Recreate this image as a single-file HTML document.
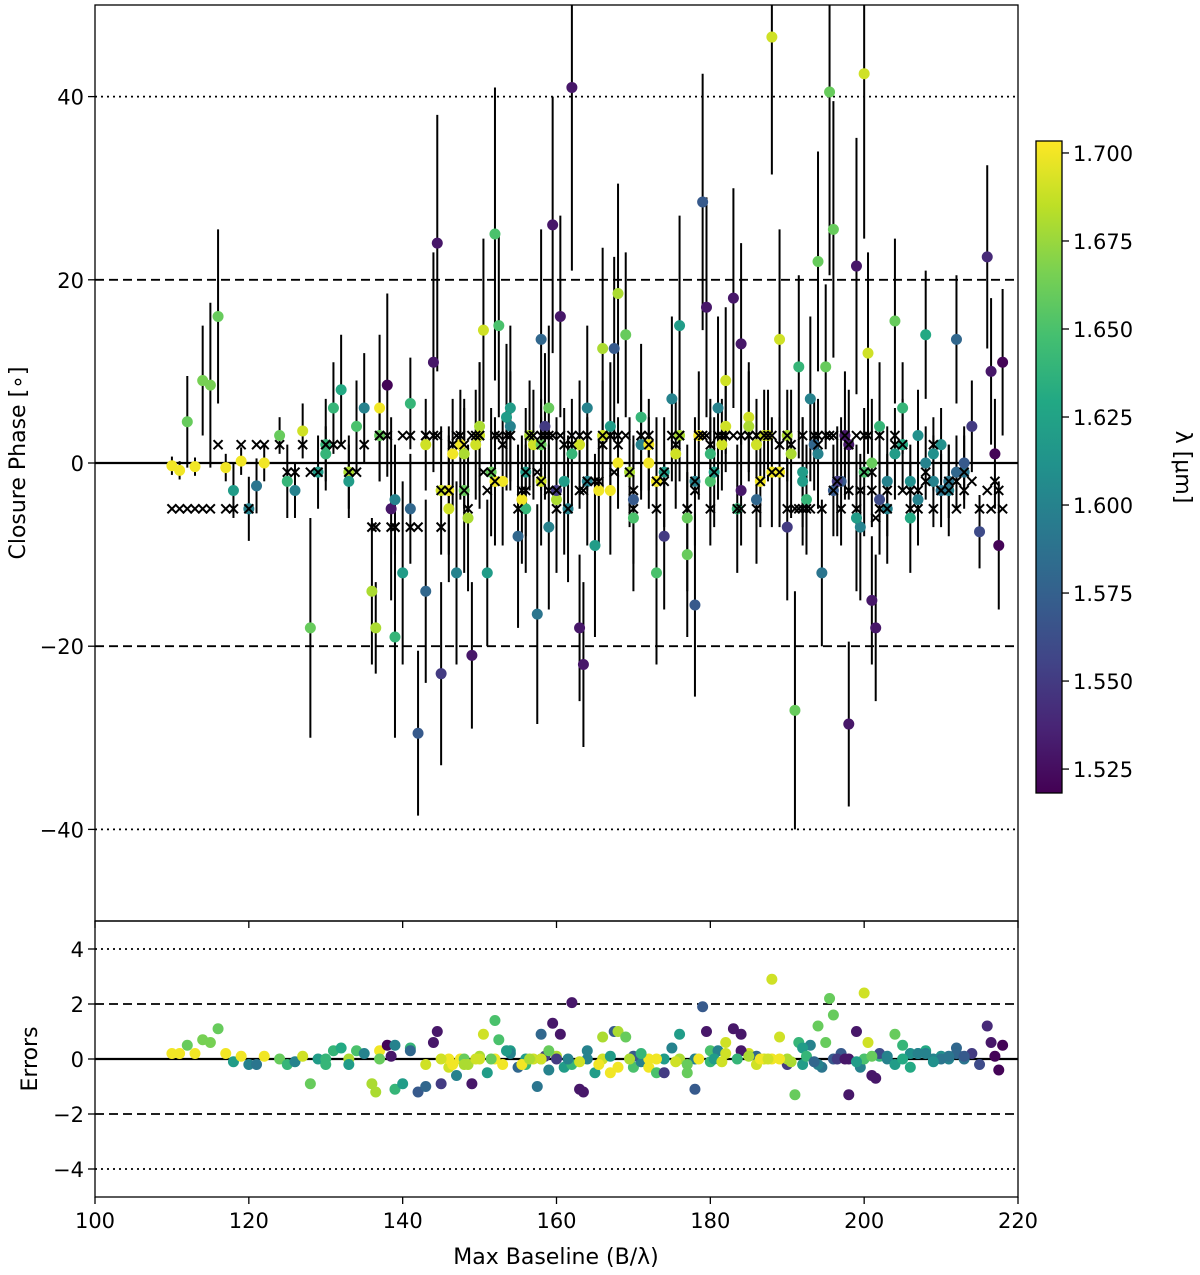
<!DOCTYPE html>
<html><head><meta charset="utf-8">
<style>
html,body{margin:0;padding:0;background:#fff;}
svg{display:block;font-family:"DejaVu Sans","Liberation Sans",sans-serif;}
</style></head>
<body>
<svg id="chart" width="1200" height="1275" viewBox="0 0 1200 1275" xmlns="http://www.w3.org/2000/svg">
<defs>
<clipPath id="clipTop"><rect x="95" y="5" width="923" height="916"/></clipPath>
<clipPath id="clipBot"><rect x="95" y="921" width="923" height="276"/></clipPath>
<linearGradient id="cbgrad" x1="0" y1="1" x2="0" y2="0">
<stop offset="0" stop-color="#440154"/><stop offset="0.1" stop-color="#482475"/><stop offset="0.2" stop-color="#414487"/><stop offset="0.3" stop-color="#355f8d"/><stop offset="0.4" stop-color="#2a788e"/><stop offset="0.5" stop-color="#21918c"/><stop offset="0.6" stop-color="#22a884"/><stop offset="0.7" stop-color="#44bf70"/><stop offset="0.8" stop-color="#7ad151"/><stop offset="0.9" stop-color="#bddf26"/><stop offset="1" stop-color="#fde725"/>
</linearGradient>
</defs>
<g id="top-layer"></g>
<g id="bot-layer"></g>
<g id="axes-layer"></g>
</svg>
<script>
const baseline = [110,111,112,113,114,115,116,117,118,119,120,121,122,
124,125,126,127,128,129,130,131,132,133,134,135,
136,136.5,137,138,138.5,139,140,141,142,143,144,144.5,145,
146,147,147.5,148,149,150,150.5,151,152,152.5,153,154,155,156,157,157.5,158,158.5,159,159.5,160,160.5,
161,162,163,163.5,164,165,166,167,167.5,168,169,170,171,172,173,174,175,
176,177,178,179,179.5,180,181,182,183,184,185,186,187,188,189,190,
191,191.5,192,193,194,194.5,195,195.5,196,197,198,199,199.5,200,200.5,201,201.5,202,203,204,205,
206,207,208,209,210,211,212,213,214,215,216,216.5,217,217.5,218,
130,133,137,139,141,143,146,148,150,152,154,156,158,160,162,164,166,168,170,172,174,176,178,180,182,184,186,188,190,192,194,196,198,200,202,204,206,208,210,212,
145,146.5,148.5,149.5,151.5,153.5,155.5,156.5,158,159,161.5,163,165.5,167,169.5,171,173,175.5,177,178.5,180.5,181.5,183.5,185,186.5,187.5,189,190.5,192.5,193.5,196.5,197.5,199,201,203,205,207,209,211,213];
const closurePhase = [-0.3,-0.8,4.5,-0.4,9,8.5,16,-0.5,-3,0.2,-5,-2.5,0,
3,-2,-3,3.5,-18,-1,2,6,8,-1,4,6,
-14,-18,6,8.5,-5,-19,-12,6.5,-29.5,-14,11,24,-23,
-5,-12,2,-3,-21,4,14.5,-12,25,15,-2,6,-8,-5,2,-16.5,13.5,4,-7,26,-4,16,
-2,41,-18,-22,6,-9,12.5,-3,12.5,18.5,14,-6,2,0,-12,-8,7,
15,-10,-15.5,28.5,17,-2,6,9,18,13,5,-4,3,46.5,13.5,-7,
-27,10.5,-1,7,22,-12,10.5,40.5,25.5,-2,-28.5,21.5,-7,42.5,12,-15,-18,4,-5,15.5,6,
-6,3,14,-2,2,-3,13.5,-1,4,-7.5,22.5,10,1,-9,11,
1,-2,3,-4,-5,2,-3,1,3,-2,4,-1,2,-3,1,-2,3,0,-4,2,-1,3,-2,1,4,-3,2,-1,3,-2,1,-3,2,-1,-4,1,-2,0,-3,-1,
-3,1,-6,2,-1,5,-4,3,-2,6,-5,2,-3,4,-1,5,-2,1,-6,3,-1,2,-5,4,-2,3,-1,1,-4,2,-2,3,-6,0,-2,2,-4,1,-2,0];
const errBar = [1,1,5,1,6,9,9.5,1.5,3,1.5,3.5,3,2,
2,4,3,3,12,4,5,5,6,4,5,6,
8,5,8,10,10,11,10,5,9,10,12,14,10,
8,10,6,9,8,7,10,8,16,10,7,9,10,7,6,12,12,8,9,14,8,11,
8,20,8,9,9,10,11,7,10,12,9,8,6,5,10,8,9,
12,9,10,14,12,7,10,8,12,11,6,7,5,15,12,8,
13,10,6,9,12,8,9,20,14,7,9,14,8,18,11,7,8,7,6,9,5,
6,5,7,5,4,5,7,4,5,4,10,8,6,7,8,
3,4,5,6,6,5,7,6,8,7,6,7,5,8,6,7,6,5,7,5,6,5,7,6,5,6,5,6,5,7,6,5,6,7,6,5,4,4,4,4,
7,6,8,6,7,8,7,6,7,9,8,7,6,7,6,8,7,6,8,7,6,5,7,6,5,5,6,7,6,5,6,7,8,7,6,5,5,4,4,4];
const wavelength = [1.70,1.70,1.66,1.70,1.665,1.665,1.66,1.70,1.62,1.70,1.60,1.59,1.70,
1.66,1.64,1.60,1.69,1.66,1.62,1.64,1.64,1.63,1.68,1.65,1.60,
1.68,1.68,1.70,1.52,1.53,1.64,1.62,1.64,1.57,1.58,1.53,1.53,1.55,
1.69,1.60,1.70,1.66,1.53,1.68,1.69,1.62,1.65,1.65,1.70,1.62,1.58,1.64,1.69,1.59,1.58,1.55,1.60,1.53,1.68,1.53,
1.62,1.53,1.53,1.53,1.60,1.62,1.68,1.70,1.57,1.68,1.66,1.65,1.60,1.70,1.65,1.55,1.60,
1.62,1.66,1.57,1.57,1.53,1.65,1.60,1.69,1.53,1.53,1.69,1.58,1.69,1.69,1.69,1.55,
1.66,1.64,1.62,1.60,1.66,1.59,1.66,1.66,1.66,1.57,1.53,1.53,1.60,1.69,1.69,1.53,1.53,1.64,1.60,1.66,1.64,
1.63,1.61,1.63,1.60,1.61,1.60,1.58,1.59,1.55,1.56,1.54,1.53,1.52,1.52,1.52,
1.64,1.62,1.66,1.60,1.58,1.69,1.70,1.68,1.69,1.70,1.60,1.62,1.66,1.55,1.64,1.60,1.69,1.70,1.57,1.70,1.62,1.68,1.60,1.64,1.69,1.53,1.69,1.70,1.68,1.62,1.60,1.57,1.53,1.65,1.56,1.62,1.61,1.60,1.59,1.58,
1.69,1.70,1.68,1.69,1.66,1.62,1.70,1.68,1.69,1.66,1.60,1.69,1.70,1.62,1.68,1.64,1.70,1.69,1.66,1.70,1.62,1.69,1.64,1.68,1.70,1.69,1.70,1.68,1.64,1.58,1.55,1.53,1.62,1.66,1.60,1.63,1.60,1.61,1.59,1.57];
const modelPhase = [-5,-5,-5,-5,-5,-5,2,-5,-5,2,-5,2,2,
2,-1,-1,2,-1,-1,2,2,2,-1,-1,2,
-7,-7,3,3,-7,-7,3,3,-7,3,3,3,-7,
-3,3,3,-3,3,3,-1,-3,3,3,2,3,-5,-3,3,-1,3,3,-3,3,-5,3,
2,3,-3,-3,3,-2,2,3,-1,3,3,-3,3,3,-5,-2,3,
3,-5,-3,3,3,-5,3,3,3,3,3,-5,3,3,2,-5,
-5,-5,3,-5,3,-5,3,3,3,-5,-3,3,-3,3,3,-3,-6,3,-5,3,-3,
-5,-3,-2,-5,-3,-2,-5,-3,-2,-5,-3,-5,-2,-3,-5,
2,-1,3,-7,-7,3,-3,2,3,-2,3,-1,2,-3,2,-2,3,2,-5,2,-1,3,-2,2,3,-5,3,-1,3,-5,2,-3,2,-1,-5,2,-3,-1,-3,-2,
-3,2,-5,3,-1,3,-3,3,-2,3,-5,3,-2,3,-1,3,-2,2,-5,3,-1,3,-5,3,-2,3,-1,2,-5,3,-2,3,-5,-1,-3,2,-5,2,-3,-1];
const residual = [0.2,0.2,0.5,0.2,0.7,0.6,1.1,0.2,-0.1,0.1,-0.2,-0.2,0.1,
0,-0.2,-0.1,0.1,-0.9,0,0,0.3,0.4,0,0.3,0.2,
-0.9,-1.2,0.3,0.5,0.1,-1.1,-0.9,0.4,-1.2,-1,0.6,1,-0.9,
-0.3,-0.6,0,0,-0.9,0.1,0.9,-0.5,1.4,0.7,-0.2,0.3,-0.3,-0.2,0,-1,0.9,0.1,-0.4,1.3,0.1,0.9,
-0.3,2.05,-1.1,-1.2,0.3,-0.5,0.8,-0.5,1,1,0.8,-0.3,-0.1,-0.3,-0.5,-0.5,0.4,
0.9,-0.5,-1.1,1.9,1,0.3,0.3,0.6,1.1,0.9,0.2,0.1,0,2.9,0.8,-0.2,
-1.3,0.6,-0.2,0.5,1.2,-0.3,0.6,2.2,1.6,0.2,-1.3,1,-0.3,2.4,0.6,-0.6,-0.7,0.1,0,0.9,0.5,
-0.3,0.2,0.3,0,0.1,0,0.4,0,0.2,-0.2,1.2,0.6,0.1,-0.4,0.5,
-0.2,-0.2,0,0.5,0.3,-0.2,0,-0.2,0,0,0.2,0,0,0,-0.2,0,0,-0.3,0.1,0,0,0,0,-0.1,0.2,0.3,-0.2,0,0,0.4,-0.2,0,0,0,0.2,-0.2,0.2,0.2,0,0.2,
0,-0.2,-0.2,0,0,0.3,-0.2,0,0,0.3,0,-0.1,-0.2,0.1,0,0.2,0,-0.1,-0.2,0,0,-0.1,0,0.1,0,0,0,-0.1,0.1,-0.1,0,0,-0.1,0.1,0.1,0,0.2,-0.1,0.1,0.1];
const xTicks = [100,120,140,160,180,200,220];
const yTicksTop = [-40,-20,0,20,40];
const yTicksBot = [-4,-2,0,2,4];
const cbTicks = [1.525,1.550,1.575,1.600,1.625,1.650,1.675,1.700];

const NS='http://www.w3.org/2000/svg';
const X0=95,X1=1018,XMIN=100,XMAX=220,YB=1197;
const xs=v=>X0+(v-XMIN)/(XMAX-XMIN)*(X1-X0);
const yTop=v=>463-v*9.16;
const yBot=v=>1059-v*27.5;
const CB_Y0=793,CB_Y1=141,LMIN=1.5182,LMAX=1.7034;
const yCb=v=>CB_Y0-(v-LMIN)/(LMAX-LMIN)*(CB_Y0-CB_Y1);
const stops=['#440154','#482475','#414487','#355f8d','#2a788e','#21918c','#22a884','#44bf70','#7ad151','#bddf26','#fde725'];
function hex(h){return [1,3,5].map(i=>parseInt(h.substr(i,2),16));}
function viridis(l){let t=Math.max(0,Math.min(1,(l-LMIN)/(LMAX-LMIN)))*10;let i=Math.min(9,Math.floor(t)),f=t-i;const a=hex(stops[i]),b=hex(stops[i+1]);return 'rgb('+a.map((c,k)=>Math.round(c+(b[k]-c)*f)).join(',')+')';}
function mk(tag,attrs,parent){const e=document.createElementNS(NS,tag);for(const k in attrs)e.setAttribute(k,attrs[k]);parent.appendChild(e);return e;}

const topLayer=document.getElementById('top-layer');
const botLayer=document.getElementById('bot-layer');
const ax=document.getElementById('axes-layer');
const gTop=mk('g',{'clip-path':'url(#clipTop)'},topLayer);
const gBot=mk('g',{'clip-path':'url(#clipBot)'},botLayer);

[[20,'9,5'],[-20,'9,5'],[40,'2,4'],[-40,'2,4']].forEach(([v,d])=>{
 const l=mk('line',{x1:X0,x2:X1,y1:yTop(v),y2:yTop(v),stroke:'#000','stroke-width':1.8,'stroke-dasharray':d},gTop);
 
 
});
[[2,'9,5'],[-2,'9,5'],[4,'2,4'],[-4,'2,4']].forEach(([v,d])=>{
 const l=mk('line',{x1:X0,x2:X1,y1:yBot(v),y2:yBot(v),stroke:'#000','stroke-width':1.8,'stroke-dasharray':d},gBot);
 
 
});
const z1=mk('line',{x1:X0,x2:X1,y1:yTop(0),y2:yTop(0),stroke:'#000','stroke-width':2.2},gTop);


const z2=mk('line',{x1:X0,x2:X1,y1:yBot(0),y2:yBot(0),stroke:'#000','stroke-width':2.2},gBot);



baseline.forEach((b,i)=>{
 const l=mk('line',{x1:xs(b),x2:xs(b),y1:yTop(closurePhase[i]-errBar[i]),y2:yTop(closurePhase[i]+errBar[i]),stroke:'#000','stroke-width':2},gTop);
 
 
});
baseline.forEach((b,i)=>{
 const c=mk('circle',{cx:xs(b),cy:yTop(closurePhase[i]),r:5.5,fill:viridis(wavelength[i])},gTop);
 
 
});
baseline.forEach((b,i)=>{
 const x=xs(b),y=yTop(modelPhase[i]),s=4.5;
 const p=mk('path',{d:`M${x-s},${y-s}L${x+s},${y+s}M${x-s},${y+s}L${x+s},${y-s}`,stroke:'#000','stroke-width':2},gTop);
 
 
});
baseline.forEach((b,i)=>{
 const c=mk('circle',{cx:xs(b),cy:yBot(residual[i]),r:5.5,fill:viridis(wavelength[i])},gBot);
 
 
});

const f1=mk('rect',{x:X0,y:5,width:X1-X0,height:916,fill:'none',stroke:'#000','stroke-width':1.3},ax);


const f2=mk('rect',{x:X0,y:921,width:X1-X0,height:YB-921,fill:'none',stroke:'#000','stroke-width':1.3},ax);



xTicks.forEach(v=>{
 const x=xs(v);
 const t=mk('line',{x1:x,x2:x,y1:YB,y2:YB+7,stroke:'#000','stroke-width':1.3},ax);
 
 
 const t2=mk('line',{x1:x,x2:x,y1:921,y2:928,stroke:'#000','stroke-width':1.3},ax);
 
 
 const tx=mk('text',{x:x,y:1228,'font-size':21,'text-anchor':'middle',fill:'#000'},ax);
 tx.textContent=v;
 
 
});
const minus=v=>v<0?'\u2212'+Math.abs(v):String(v);
yTicksTop.forEach(v=>{
 const y=yTop(v);
 const t=mk('line',{x1:X0-7,x2:X0,y1:y,y2:y,stroke:'#000','stroke-width':1.3},ax);
 
 
 const tx=mk('text',{x:X0-11,y:y+8,'font-size':21,'text-anchor':'end',fill:'#000'},ax);
 tx.textContent=minus(v);
 
 
});
yTicksBot.forEach(v=>{
 const y=yBot(v);
 const t=mk('line',{x1:X0-7,x2:X0,y1:y,y2:y,stroke:'#000','stroke-width':1.3},ax);
 
 
 const tx=mk('text',{x:X0-11,y:y+8,'font-size':21,'text-anchor':'end',fill:'#000'},ax);
 tx.textContent=minus(v);
 
 
});
const xt=mk('text',{x:556,y:1264,'font-size':22,'text-anchor':'middle',fill:'#000'},ax);
xt.textContent='Max Baseline (B/\u03bb)';


const yt=mk('text',{x:0,y:0,'font-size':22,'text-anchor':'middle',fill:'#000',transform:'translate(25,463) rotate(-90)'},ax);
yt.textContent='Closure Phase [\u2218]';


const yt2=mk('text',{x:0,y:0,'font-size':22,'text-anchor':'middle',fill:'#000',transform:'translate(37,1059) rotate(-90)'},ax);
yt2.textContent='Errors';



const cb=mk('rect',{x:1036,y:CB_Y1,width:26,height:CB_Y0-CB_Y1,fill:'url(#cbgrad)',stroke:'#000','stroke-width':1.3},ax);


cbTicks.forEach(v=>{
 const y=yCb(v);
 const t=mk('line',{x1:1062,x2:1069,y1:y,y2:y,stroke:'#000','stroke-width':1.3},ax);
 
 
 const tx=mk('text',{x:1073,y:y+8,'font-size':21,fill:'#000'},ax);
 tx.textContent=v.toFixed(3);
 
 
});
const cbt=mk('text',{x:0,y:0,'font-size':22,'text-anchor':'middle',fill:'#000',transform:'translate(1176,467) rotate(90)'},ax);
cbt.textContent='\u03bb [\u03bcm]';


</script>
</body></html>
